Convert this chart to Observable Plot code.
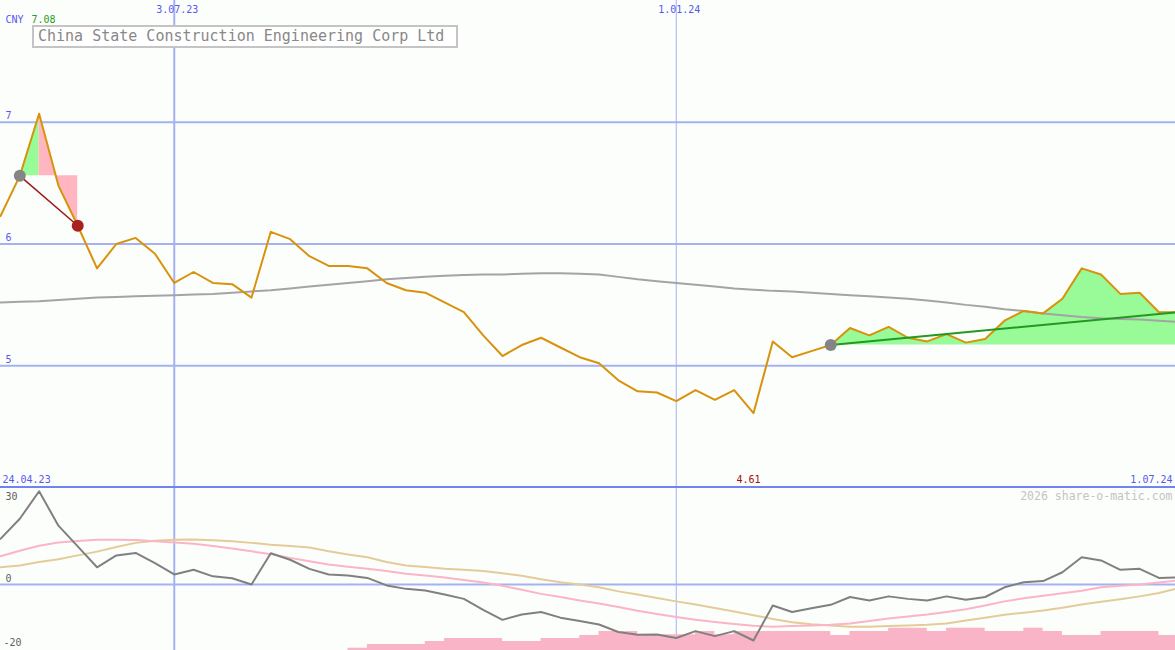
<!DOCTYPE html>
<html><head><meta charset="utf-8">
<script src="https://cdn.jsdelivr.net/npm/d3@7"></script>
<script src="https://cdn.jsdelivr.net/npm/@observablehq/plot@0.6"></script>
<style>
html,body{margin:0;padding:0;background:#fcfefb;}
#wrap{position:relative;width:1175px;height:650px;overflow:hidden;background:#fcfefb;font-family:"DejaVu Sans Mono",monospace;}
#top{position:absolute;left:0;top:0;}
#bot{position:absolute;left:0;top:487px;}
#sep{position:absolute;left:0;top:486px;width:1175px;height:2px;background:#7282ee;}
#title{position:absolute;left:32px;top:25px;width:418px;height:19px;border:2px solid #c4c4c4;background:#fff;color:#888;font-size:15px;line-height:19px;padding-left:4px;white-space:nowrap;}
</style></head>
<body>
<div id="wrap">
  <div id="top"></div>
  <div id="bot"></div>
  <div id="sep"></div>
  <div id="title">China State Construction Engineering Corp Ltd</div>
</div>
<script>
// ---- data (weekly, first week 2023-05-01) ----
const firstWeek = "2023-05-01";
const lastDay = "2024-06-30";
const price = [6.23, 6.56, 7.07, 6.48, 6.15, 5.80, 6.00, 6.05, 5.92, 5.68,
  5.77, 5.68, 5.67, 5.56, 6.10, 6.04, 5.90, 5.82, 5.82, 5.80,
  5.68, 5.62, 5.60, 5.52, 5.44, 5.25, 5.08, 5.17, 5.23, 5.15,
  5.07, 5.02, 4.88, 4.79, 4.78, 4.71, 4.80, 4.72, 4.80, 4.61,
  5.20, 5.07, 5.12, 5.17, 5.31, 5.25, 5.32, 5.23, 5.20, 5.26,
  5.19, 5.22, 5.37, 5.45, 5.43, 5.55, 5.80, 5.75, 5.59, 5.60,
  5.44, 5.44];
const movingAvg = [5.52, 5.525, 5.53, 5.54, 5.55, 5.56, 5.565, 5.57, 5.575, 5.58,
  5.585, 5.59, 5.60, 5.61, 5.62, 5.635, 5.65, 5.665, 5.68, 5.695,
  5.71, 5.72, 5.73, 5.74, 5.745, 5.75, 5.75, 5.755, 5.76, 5.76,
  5.755, 5.75, 5.73, 5.71, 5.695, 5.68, 5.665, 5.65, 5.635, 5.625,
  5.615, 5.61, 5.60, 5.59, 5.58, 5.57, 5.56, 5.55, 5.535, 5.52,
  5.50, 5.485, 5.465, 5.45, 5.43, 5.415, 5.40, 5.39, 5.385, 5.38,
  5.37, 5.36];
const oscillator = [14.6, 21.0, 29.8, 18.8, 12.2, 5.5, 9.3, 10.1, 6.8, 3.2,
  4.7, 2.6, 2.0, 0.0, 10.0, 7.9, 5.0, 3.2, 2.9, 2.1,
  -0.3, -1.4, -1.9, -3.2, -4.6, -8.1, -11.3, -9.6, -8.8, -10.6,
  -11.7, -12.8, -15.2, -16.1, -16.0, -17.1, -14.9, -16.5, -14.9, -17.9,
  -6.7, -8.8, -7.6, -6.5, -4.0, -5.1, -3.8, -4.6, -5.1, -3.8,
  -4.9, -4.0, -0.9, 0.7, 1.1, 3.9, 8.7, 7.7, 4.7, 5.0,
  2.1, 2.3];
const signalPink = [9.0, 10.8, 12.4, 13.4, 13.9, 14.3, 14.3, 14.2, 13.8, 13.4,
  13.0, 12.3, 11.5, 10.6, 9.7, 8.5, 7.4, 6.4, 5.7, 5.0,
  4.3, 3.4, 2.9, 2.2, 1.4, 0.6, -0.4, -1.7, -3.0, -4.0,
  -5.1, -6.1, -7.2, -8.4, -9.4, -10.4, -11.3, -12.0, -12.6, -13.2,
  -13.5, -13.3, -13.1, -12.9, -12.5, -11.7, -10.9, -10.2, -9.6, -8.8,
  -7.9, -6.7, -5.4, -4.4, -3.6, -2.8, -2.0, -0.9, -0.4, 0.0,
  0.6, 1.3];
const signalTan = [5.5, 6.1, 7.2, 8.1, 9.3, 10.5, 12.0, 13.3, 14.0, 14.3,
  14.4, 14.1, 13.8, 13.3, 12.7, 12.3, 11.8, 10.6, 9.6, 8.7,
  7.2, 6.1, 5.6, 5.0, 4.7, 4.3, 3.6, 2.8, 1.7, 0.7,
  0.0, -0.9, -2.2, -3.2, -4.3, -5.4, -6.4, -7.5, -8.6, -9.8,
  -11.0, -12.1, -12.7, -13.1, -13.5, -13.5, -13.3, -13.1, -12.9, -12.5,
  -11.5, -10.6, -9.7, -9.0, -8.3, -7.4, -6.4, -5.5, -4.7, -3.8,
  -2.7, -1.2];
const barsFromWeek = 18;
const bars = [-20.35, -19.2, -19.2, -19.2, -18.2, -17.25, -17.25, -17.25, -18.2, -18.2,
  -17.25, -17.25, -16.3, -15.0, -15.0, -16.1, -16.1, -16.1, -15.0, -16.1,
  -15.0, -15.0, -15.0, -15.0, -15.0, -16.3, -15.0, -15.0, -14.0, -14.0,
  -15.0, -14.0, -14.0, -15.0, -15.0, -14.0, -15.0, -16.3, -16.3, -15.0,
  -15.0, -15.0, -16.3, -16.3];
const xTickDates = ["2023-07-03", "2024-01-01"];
const xTickLabels = ["3.07.23", "1.01.24"];
const priceTicks = [7, 6, 5];
const oscTicks = [30, 0, -20];
// signal annotations (week indices)
const sellStart = 1, sellPeak = 2, sellEnd = 4;
const buyStart = 43, trendEndValue = 5.44;
const maxLabel = "7.08", minLabel = "4.61";

// ---- build ----
const start = new Date(firstWeek + "T00:00:00Z");
const end = new Date(lastDay + "T00:00:00Z");
const dateOf = i => new Date(start.getTime() + i * 7 * 864e5);
const data = price.map((p, i) => ({i, date: dateOf(i), price: p, ma: movingAvg[i],
  osc: oscillator[i], pink: signalPink[i], tan: signalTan[i]}));
const barData = bars.map((v, k) => ({date: dateOf(barsFromWeek + k), v}));
const xTicks = xTickDates.map((d, k) => ({date: new Date(d + "T00:00:00Z"), label: xTickLabels[k]}));
const sellLevel = price[sellStart];
const buyLevel = price[buyStart];
const minIdx = price.indexOf(d3.min(price));
const bg = "#fcfefb", grid = "#a4b2f2", blue = "#5858f0";
const font = "DejaVu Sans Mono";
const mid = {lineAnchor: "middle"};

const topPlot = Plot.plot({
  width: 1175, height: 487, margin: 0,
  x: {type: "utc", domain: [start, end], axis: null},
  y: {domain: [4, 8], axis: null},
  style: {background: bg, fontFamily: font, fontSize: "10px"},
  marks: [
    Plot.ruleY(priceTicks, {stroke: grid, strokeWidth: 2}),
    Plot.ruleX(xTicks.slice(0, 1), {x: "date", stroke: grid, strokeWidth: 2}),
    Plot.ruleX(xTicks.slice(1), {x: "date", stroke: grid, strokeWidth: 1}),
    Plot.areaY(data.filter(d => d.i >= sellStart && d.i <= sellPeak), {x: "date", y1: () => sellLevel, y2: "price", fill: "#98fb98"}),
    Plot.areaY(data.filter(d => d.i >= sellPeak && d.i <= sellEnd), {x: "date", y1: () => sellLevel, y2: "price", fill: "#ffb6c1"}),
    Plot.areaY(data.filter(d => d.i >= buyStart), {x: "date", y1: () => buyLevel, y2: "price", fill: "#98fb98"}),
    Plot.line(data, {x: "date", y: "ma", stroke: "#a4a4a4", strokeWidth: 2}),
    Plot.line(data, {x: "date", y: "price", stroke: "#d8920c", strokeWidth: 2}),
    Plot.line([data[sellStart], data[sellEnd]], {x: "date", y: "price", stroke: "#a01818", strokeWidth: 1.5}),
    Plot.line([{date: data[buyStart].date, y: buyLevel}, {date: data[data.length - 1].date, y: trendEndValue}], {x: "date", y: "y", stroke: "#229922", strokeWidth: 2}),
    Plot.dot([data[sellStart], data[buyStart]], {x: "date", y: "price", r: 6, fill: "#858585"}),
    Plot.dot([data[sellEnd]], {x: "date", y: "price", r: 6, fill: "#aa2020"}),
    Plot.text(priceTicks, {y: d => d, text: d => String(d), frameAnchor: "left", textAnchor: "start", dx: 5, dy: -6, fill: blue, ...mid}),
    Plot.text(xTicks, {x: "date", text: "label", frameAnchor: "top", dy: 9, dx: 3, fill: blue, ...mid}),
    Plot.text(["CNY"], {text: d => d, frameAnchor: "top-left", textAnchor: "start", dx: 5, dy: 19, fill: blue, ...mid}),
    Plot.text([maxLabel], {text: d => d, frameAnchor: "top-left", textAnchor: "start", dx: 31, dy: 19, fill: "#22a022", ...mid}),
    Plot.text(["24.04.23"], {text: d => d, frameAnchor: "bottom-left", textAnchor: "start", dx: 2, dy: -8, fill: blue, ...mid}),
    Plot.text([minLabel], {x: () => data[minIdx].date, text: d => d, frameAnchor: "bottom", dx: -5, dy: -8, fill: "#a01010", ...mid}),
    Plot.text(["1.07.24"], {text: d => d, frameAnchor: "bottom-right", textAnchor: "end", dx: -3, dy: -8, fill: blue, ...mid})
  ]
});
document.getElementById("top").appendChild(topPlot);

const botPlot = Plot.plot({
  width: 1175, height: 163, margin: 0,
  x: {type: "utc", domain: [start, end], axis: null},
  y: {domain: [-21.1, 31], axis: null},
  style: {background: bg, fontFamily: font, fontSize: "10px"},
  marks: [
    Plot.ruleX(xTicks.slice(0, 1), {x: "date", stroke: grid, strokeWidth: 2}),
    Plot.ruleX(xTicks.slice(1), {x: "date", stroke: grid, strokeWidth: 1}),
    Plot.ruleY([0], {stroke: grid, strokeWidth: 2}),
    Plot.areaY(barData, {x: "date", y1: () => -21.1, y2: "v", fill: "#f9b4c8", curve: "step-after"}),
    Plot.line(data, {x: "date", y: "tan", stroke: "#e4cc98", strokeWidth: 2}),
    Plot.line(data, {x: "date", y: "pink", stroke: "#fbb4c8", strokeWidth: 2}),
    Plot.line(data, {x: "date", y: "osc", stroke: "#808080", strokeWidth: 2}),
    Plot.text([oscTicks[0]], {text: d => String(d), frameAnchor: "top-left", textAnchor: "start", dx: 5, dy: 9, fill: "#606060", ...mid}),
    Plot.text([oscTicks[1]], {y: d => d, text: d => String(d), frameAnchor: "left", textAnchor: "start", dx: 5, dy: -6, fill: "#606060", ...mid}),
    Plot.text([oscTicks[2]], {text: d => String(d), frameAnchor: "bottom-left", textAnchor: "start", dx: 3, dy: -8, fill: "#606060", ...mid}),
    Plot.text(["2026 share-o-matic.com"], {text: d => d, frameAnchor: "top-right", textAnchor: "end", dx: -3, dy: 9, fill: "#c4c4c4", fontSize: 11.5, ...mid})
  ]
});
document.getElementById("bot").appendChild(botPlot);
</script>
</body></html>
